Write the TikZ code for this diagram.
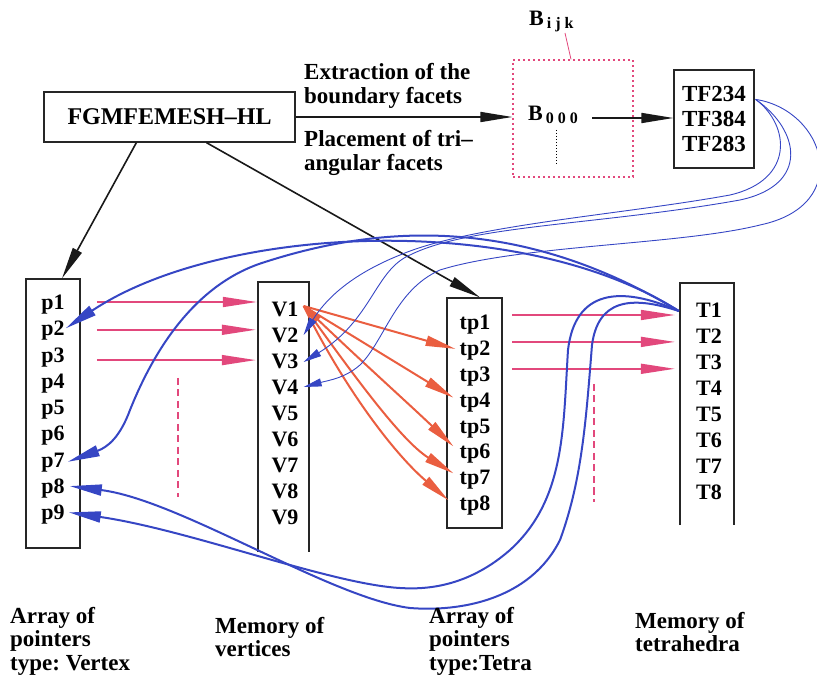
\documentclass[tikz,border=0pt]{standalone}
\usepackage{fontspec}
\setmainfont{Liberation Serif}
\usetikzlibrary{arrows.meta,calc}
\definecolor{ptrpink}{RGB}{226,72,124}
\definecolor{vtxred}{RGB}{234,94,64}
\definecolor{linkblue}{RGB}{54,70,196}
\tikzset{
  item/.style={font=\fontsize{22}{26}\selectfont\bfseries, inner sep=1pt, text height=15pt, text depth=0pt},
  lbl/.style={font=\fontsize{23}{24}\selectfont\bfseries, align=left, inner sep=0pt},
  captext/.style={font=\fontsize{23}{23.5}\selectfont\bfseries, align=left, anchor=north west, inner sep=0pt},
  listbox/.style={draw=black!85, line width=1.2pt},
  memline/.style={draw=black!85, line width=2pt},
  blk/.style={draw=black!90, line width=1.6pt, -{Triangle[length=32pt,width=10pt]}},
  ptr/.style={draw=ptrpink, line width=1.6pt, -{Triangle[length=34pt,width=10pt]}},
  vtx/.style={draw=vtxred, line width=2pt, -{Triangle[length=30pt,width=10pt]}},
  tlink/.style={draw=linkblue, line width=2pt, -{Triangle[length=32pt,width=11pt]}},
  flink/.style={draw=linkblue, line width=0.9pt, -{Triangle[length=18pt,width=8pt]}},
}
\frenchspacing
\begin{document}
\begin{tikzpicture}[x=1pt,y=-1pt]
\useasboundingbox (0,0) rectangle (817,684);

% ---------- top row ----------
\node[listbox, minimum width=251pt, minimum height=50pt, inner sep=0pt,
      font=\fontsize{24}{24}\selectfont\bfseries] (FGM) at (169.5,117) {FGMFEMESH--HL};
\node[draw=ptrpink, line width=1.3pt, dash pattern=on 2pt off 3pt,
      minimum width=120pt, minimum height=117pt, inner sep=0pt] (Bbox) at (573,118.5) {};
\node[listbox, minimum width=80pt, minimum height=98pt, inner sep=0pt, align=center,
      font=\fontsize{23}{25}\selectfont\bfseries] (TF) at (714,119) {TF234\\TF384\\TF283};

\node[anchor=base west, inner sep=0pt, font=\fontsize{22}{22}\selectfont\bfseries] (b000) at (528,121)
  {B\kern3pt\raisebox{-3pt}{\fontsize{16}{16}\selectfont 0\kern4pt0\kern4pt0}};
\node[anchor=base west, inner sep=0pt, font=\fontsize{22}{22}\selectfont\bfseries] (bijk) at (529,26)
  {B\kern3pt\raisebox{-3pt}{\fontsize{16}{16}\selectfont i\kern4pt j\kern4pt k}};
\draw[ptrpink, line width=0.8pt] ($(bijk.base west)+(36,7)$) -- ($(Bbox.north)+(-2,0)$);
\draw[black, line width=1pt, dash pattern=on 1.5pt off 1.5pt] ($(b000.base west)+(28,9)$) -- ++(0,35);

\node[lbl, anchor=west] (ext) at (304,86) {Extraction of the\\boundary facets};
\node[lbl, anchor=west] (plc) at (304,153) {Placement of tri--\\angular facets};

\draw[blk] (FGM.east) -- (FGM.east -| Bbox.west);
\draw[blk] ($(b000.base east)+(14,-3)$) -- ($(b000.base east -| TF.west)+(0,-3)$);

% ---------- lists ----------
\foreach \i in {1,...,9} \node[item] (p\i) at (53,{302+26.3*(\i-1)}) {p\i};
\foreach \i in {1,...,9} \node[item] (V\i) at (285,{309+26*(\i-1)}) {V\i};
\foreach \i in {1,...,8} \node[item] (tp\i) at (475,{322+25.9*(\i-1)}) {tp\i};
\foreach \i in {1,...,8} \node[item] (T\i) at (709,{310+26*(\i-1)}) {T\i};

\node[listbox, minimum width=54pt, minimum height=269pt, inner sep=0pt] (P) at (53,413.5) {};
\node[listbox, minimum width=55pt, minimum height=230pt, inner sep=0pt] (tpbox) at (474.5,413) {};
\node[minimum width=51pt, minimum height=270pt, inner sep=0pt] (Vmem) at (283.5,417) {};
\node[minimum width=54pt, minimum height=242pt, inner sep=0pt] (Tmem) at (707,404) {};
\draw[memline] (Vmem.south west) -- (Vmem.north west) -- (Vmem.north east) -- (Vmem.south east);
\draw[memline] (Tmem.south west) -- (Tmem.north west) -- (Tmem.north east) -- (Tmem.south east);

% ---------- root links ----------
\draw[blk] ($(FGM.south west)+(93,0)$) -- ($(P.north)+(9,0)$);
\draw[blk] ($(FGM.south west)+(163,0)$) -- ($(tpbox.north)+(5.5,0)$);

% ---------- pointer arrays to memory ----------
\draw[ptr] ($(p1.east)+(31,0)$) -- ($(p1 -| Vmem.west)+(-1,0)$);
\draw[ptr] ($(p2.east)+(31,1.5)$) -- ($(p2 -| Vmem.west)+(-2,1.5)$);
\draw[ptr] ($(p3.east)+(31,5.5)$) -- ($(p3 -| Vmem.west)+(-2,5.5)$);
\draw[ptr] ($(tp1.east)+(21,-7)$) -- ($(tp1 -| Tmem.west)+(-5,-7)$);
\draw[ptr] ($(tp2.east)+(21,-6)$) -- ($(tp2 -| Tmem.west)+(-5,-6)$);
\draw[ptr] ($(tp3.east)+(21,-5)$) -- ($(tp3 -| Tmem.west)+(-5,-5)$);
\draw[ptrpink, line width=1.6pt, dash pattern=on 7pt off 4.5pt] (178,378) -- (178,497);
\draw[ptrpink, line width=1.6pt, dash pattern=on 7pt off 4.5pt] (594,384) -- (594,502);

% ---------- vertex V1 shared by tetra pointers ----------
\coordinate (v1port) at ($(V1.east)+(4,-3)$);
\draw[vtx] (v1port) -- ($(tp2.west)+(-3,1)$);
\draw[vtx] (v1port) -- ($(tp4.west)+(-5,-2)$);
\draw[vtx, {Triangle[length=20pt,width=9pt]}-{Triangle[length=30pt,width=10pt]}]
  (v1port) .. controls (360,360) and (410,405) .. ($(tp6.west)+(-5,-5)$);
\draw[vtx] (v1port) .. controls (350,370) and (400,440) .. ($(tp7.west)+(-5,-4)$);
\draw[vtx] (v1port) .. controls (340,380) and (390,450) .. ($(tp8.west)+(-10,-3)$);

% ---------- tetrahedron T1 back to its vertex pointers ----------
\coordinate (t1port) at ($(Tmem.west |- T1)+(-1,1)$);
\draw[tlink] (t1port) .. controls (520,210) and (220,225) .. (p2.east);
\draw[tlink] (t1port) .. controls (520,215) and (380,225) .. (265,262)
  .. controls (190,285) and (150,360) .. (130,410)
  .. controls (120,437) and (108,447) .. ($(p7.east)+(2,2)$);
\draw[tlink] (t1port) .. controls (630,295) and (598,300) .. (592,345)
  .. controls (586,420) and (582,480) .. (560,540)
  .. controls (530,600) and (460,612) .. (410,608)
  .. controls (330,598) and (180,500) .. ($(p8.east)+(4,0)$);
\draw[tlink] (t1port) .. controls (620,285) and (575,290) .. (568,350)
  .. controls (563,430) and (565,500) .. (510,550)
  .. controls (470,585) and (430,590) .. (400,588)
  .. controls (330,584) and (190,530) .. ($(p9.east)+(3,0)$);

% ---------- boundary facets back to vertices ----------
\coordinate (tfport) at ($(TF.north east)+(1,30)$);
\draw[flink] (tfport) .. controls (790,125) and (795,180) .. (730,195)
  .. controls (620,215) and (470,225) .. (400,255)
  .. controls (350,275) and (325,300) .. ($(V2.east)+(4,0)$);
\draw[flink] (tfport) .. controls (800,130) and (810,185) .. (740,200)
  .. controls (600,225) and (470,225) .. (410,255)
  .. controls (375,270) and (372,320) .. ($(V3.east)+(4,1)$);
\draw[flink] (tfport) .. controls (825,110) and (855,205) .. (760,225)
  .. controls (680,245) and (520,245) .. (440,270)
  .. controls (395,290) and (385,340) .. (360,365)
  .. controls (345,378) and (330,380) .. ($(V4.east)+(4,0)$);

% ---------- captions ----------
\node[captext] (capP) at (10,607) {Array of\\pointers\\type: Vertex};
\node[captext] (capV) at (215,617) {Memory of\\vertices};
\node[captext] (capTp) at (429,607) {Array of\\pointers\\type:Tetra};
\node[captext] (capT) at (635,612) {Memory of\\tetrahedra};
\end{tikzpicture}
\end{document}
